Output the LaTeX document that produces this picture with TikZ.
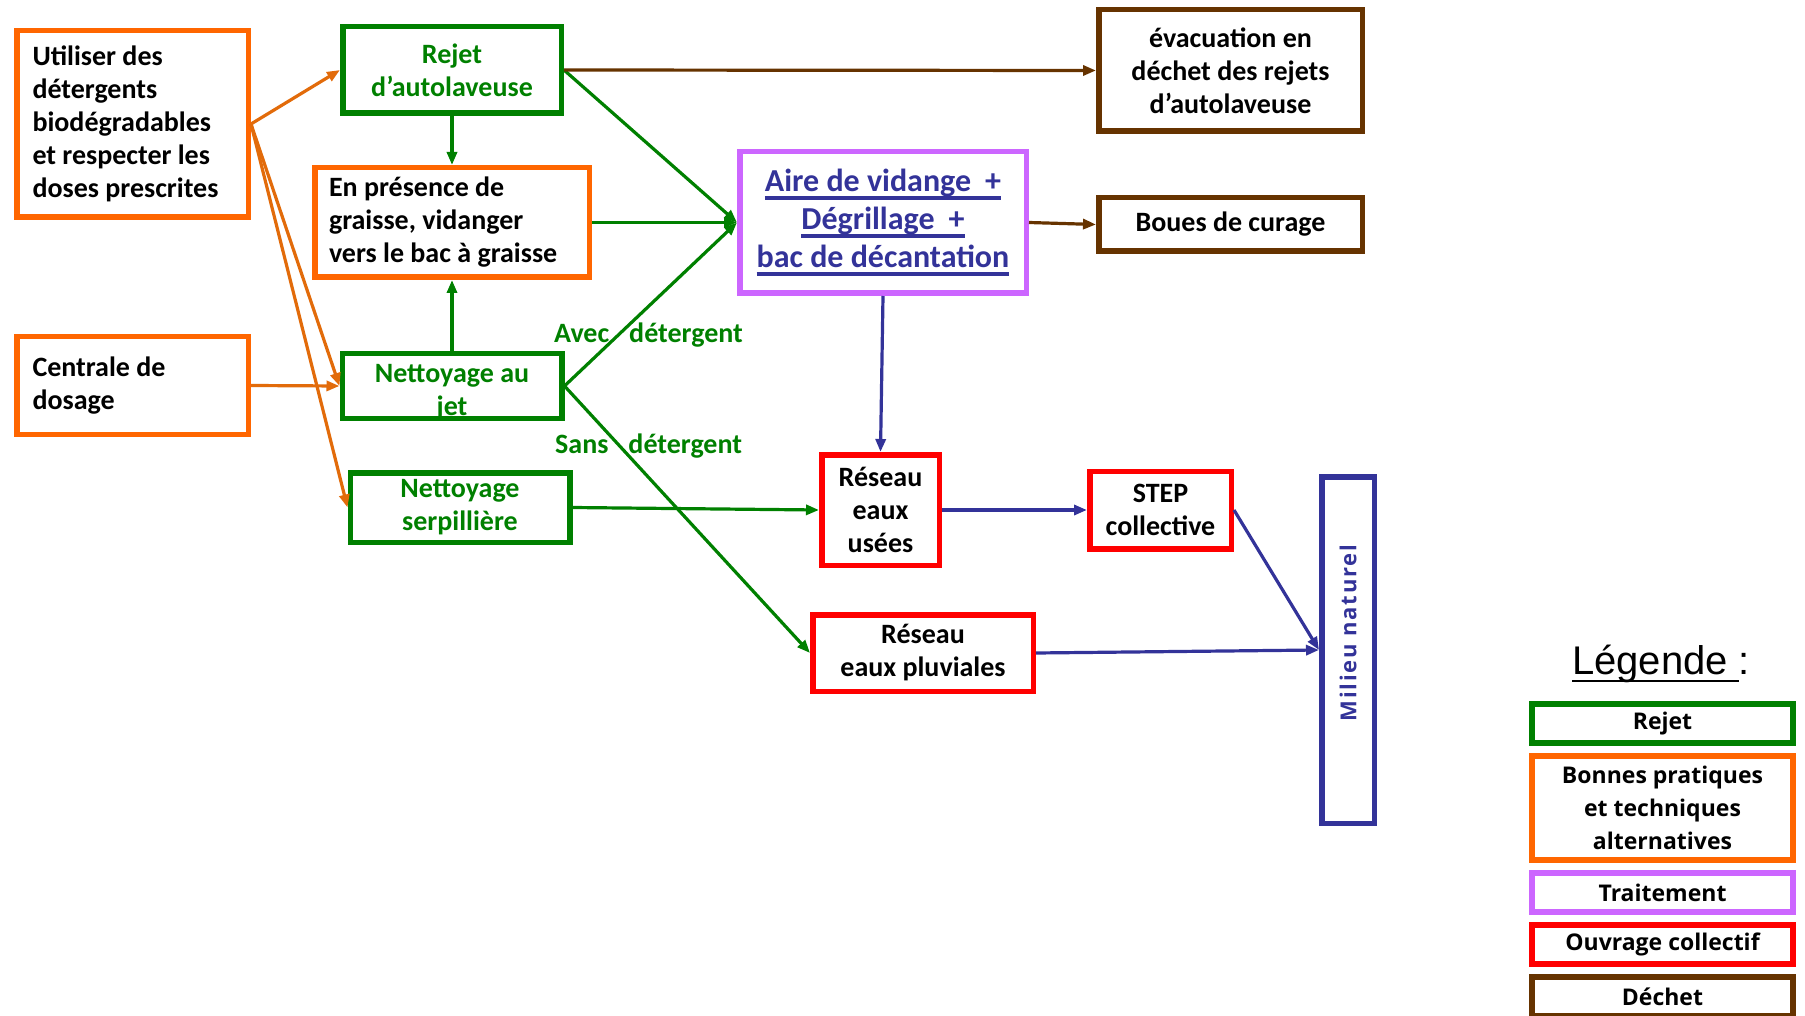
\documentclass[tikz,border=0pt]{standalone}
\usepackage{fontspec}
\setmainfont{Carlito}
\newfontfamily\legfont{Open Sans}
\newfontfamily\milfont[LetterSpace=8]{Open Sans}
\newfontfamily\titrefont{Liberation Sans}
\usetikzlibrary{shapes, arrows.meta, positioning}

\definecolor{rejetvert}{RGB}{0,128,0}
\definecolor{pratorange}{RGB}{255,102,0}
\definecolor{flecheorange}{RGB}{226,107,10}
\definecolor{traitviolet}{RGB}{204,102,255}
\definecolor{ouvrrouge}{RGB}{255,0,0}
\definecolor{dechetbrun}{RGB}{102,51,0}
\definecolor{bleunat}{RGB}{51,51,153}

\newcommand{\souligne}[2][3.5pt]{\setbox0\hbox{#2}\leavevmode\rlap{\rule[-8pt]{\wd0}{#1}}\box0}

\begin{document}
\begin{tikzpicture}[x=1pt, y=-1pt,
    boite/.style={draw, rectangle, line width=5.5pt, inner sep=0pt, align=center, font=\bfseries\fontsize{28}{33}\selectfont},
    rejetbox/.style={boite, draw=rejetvert, text=rejetvert},
    pratiquebox/.style={boite, draw=pratorange, align=flush left},
    traitbox/.style={boite, draw=traitviolet, text=bleunat},
    ouvragebox/.style={boite, draw=ouvrrouge},
    dechetbox/.style={boite, draw=dechetbrun},
    legbox/.style={boite, line width=6pt, minimum width=261pt, minimum height=39pt, font=\legfont\bfseries\fontsize{23}{33}\selectfont},
    vertlabel/.style={anchor=base west, inner sep=0pt, text=rejetvert, font=\bfseries\fontsize{28}{33}\selectfont},
    fleche/.style={-{Triangle[length=13pt,width=10pt]}, line width=3.2pt}]
    \useasboundingbox (0,0) rectangle (1805,1016);

    % bonnes pratiques et rejets
    \node (utiliser) [pratiquebox, text width=200pt, minimum width=231.5pt, minimum height=186.5pt] at (132.5,124) {Utiliser des\\détergents\\biodégradables\\et respecter les\\doses prescrites};
    \node (centrale) [pratiquebox, text width=200pt, minimum width=231.5pt, minimum height=97.5pt, below=114pt of utiliser] {Centrale de\\dosage};
    \node (autolav) [rejetbox, minimum width=218.5pt, minimum height=86.5pt] at (452,70) {Rejet\\d’autolaveuse};
    \node (graisse) [pratiquebox, text width=246pt, minimum width=274.5pt, minimum height=109.5pt, below=49pt of autolav] {En présence de\\graisse, vidanger\\vers le bac à graisse};
    \node (jet) [rejetbox, minimum width=219.5pt, minimum height=64.5pt, below=71pt of graisse] {};
    \node (jettexte) [rejetbox, draw=none] at ([yshift=-6pt]jet.center) {Nettoyage au\\jet};
    \node (serpill) [rejetbox, minimum width=219.5pt, minimum height=69.5pt, below=49pt of jet, xshift=8pt] {Nettoyage\\serpillière};
    \node (avec) [vertlabel] at (554,342) {Avec\hspace{20pt}détergent};
    \node (sans) [vertlabel] at (555,453) {Sans\hspace{20pt}détergent};

    % traitement, dechets et ouvrages
    \node (evacuation) [dechetbox, minimum width=263.5pt, minimum height=121.5pt] at (1230.5,70.5) {évacuation en\\déchet des rejets\\d’autolaveuse};
    \node (boues) [dechetbox, minimum width=263.5pt, minimum height=53.5pt, below=61pt of evacuation] {Boues de curage};
    \node (aire) [traitbox, minimum width=286.5pt, minimum height=141.5pt, font=\bfseries\fontsize{32}{38}\selectfont] at (883,222.5) {\souligne{Aire de vidange\hspace{14pt}+}\\\souligne{Dégrillage\hspace{14pt}+}\\\souligne{bac de décantation}};
    \node (usees) [ouvragebox, minimum width=117.5pt, minimum height=110.5pt, below=156pt of aire, xshift=-2.5pt] {Réseau\\eaux\\usées};
    \node (stepcoll) [ouvragebox, minimum width=141.5pt, minimum height=77.5pt, right=145pt of usees] {STEP\\collective};
    \node (pluviales) [ouvragebox, minimum width=220.5pt, minimum height=76.5pt] at (923,653) {Réseau\\eaux pluviales};
    \node (milieu) [boite, draw=bleunat, minimum width=52.5pt, minimum height=346.5pt] at (1348,650) {};
    \node (miltexte) [rotate=90, inner sep=0pt, text=bleunat, font=\milfont\bfseries\fontsize{22}{26}\selectfont] at ([yshift=17pt]milieu.center) {Milieu naturel};

    % legende
    \node (legtitre) [anchor=base, inner sep=0pt, font=\titrefont\fontsize{40}{48}\selectfont] at (1661,674) {\souligne[2pt]{Légende }:};
    \node (legrejet) [legbox, draw=rejetvert] at (1662.5,723.5) {Rejet};
    \node (legbonnes) [legbox, draw=pratorange, minimum height=104pt, below=7pt of legrejet] {Bonnes pratiques\\et techniques\\alternatives};
    \node (legtrait) [legbox, draw=traitviolet, below=7pt of legbonnes] {Traitement};
    \node (legouvrage) [legbox, draw=ouvrrouge, below=7pt of legtrait] {Ouvrage collectif};
    \node (legdechet) [legbox, draw=dechetbrun, below=7pt of legouvrage] {Déchet};

    % fleches
    \draw[fleche, flecheorange] (utiliser.east) -- (autolav.west);
    \draw[fleche, flecheorange] (utiliser.east) -- (jet.west);
    \draw[fleche, flecheorange] (utiliser.east) -- (serpill.west);
    \draw[fleche, flecheorange] (centrale.east) -- (jet.west);
    \draw[fleche, rejetvert] (autolav.south) -- (graisse.north);
    \draw[fleche, rejetvert] (jet.north) -- (graisse.south);
    \draw[fleche, rejetvert] (autolav.east) -- (aire.west);
    \draw[fleche, rejetvert] (graisse.east) -- (aire.west);
    \draw[fleche, rejetvert] (jet.east) -- (aire.west);
    \draw[fleche, rejetvert] (jet.east) -- (pluviales.west);
    \draw[fleche, rejetvert] (serpill.east) -- (usees.west);
    \draw[fleche, dechetbrun] (autolav.east) -- (evacuation.west);
    \draw[fleche, dechetbrun] (aire.east) -- (boues.west);
    \draw[fleche, bleunat] (aire.south) -- (usees.north);
    \draw[fleche, bleunat, line width=3.6pt] (usees.east) -- (stepcoll.west);
    \draw[fleche, bleunat] (stepcoll.east) -- (milieu.west);
    \draw[fleche, bleunat] (pluviales.east) -- (milieu.west);
\end{tikzpicture}
\end{document}
